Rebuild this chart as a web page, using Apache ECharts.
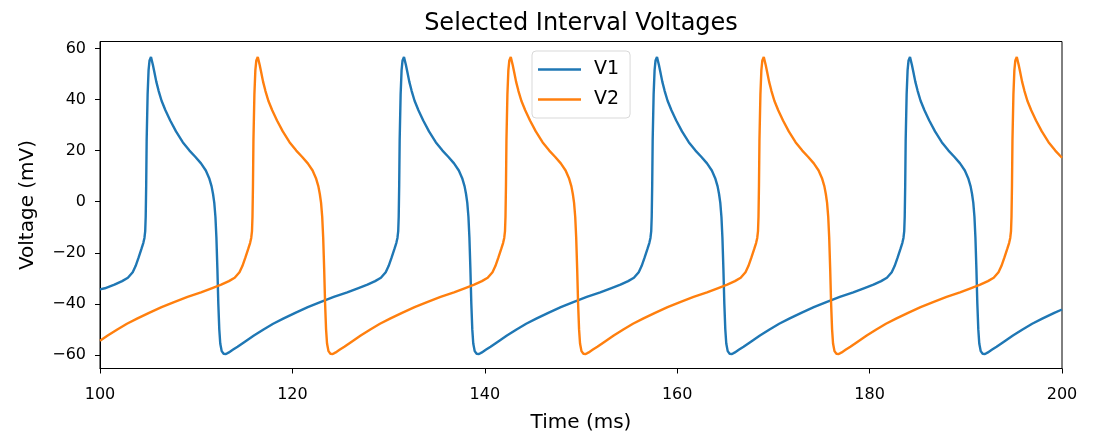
<!DOCTYPE html>
<html lang="en">
<head>
<meta charset="UTF-8">
<title>Selected Interval Voltages</title>
<script src="https://cdn.jsdelivr.net/npm/echarts@6/dist/echarts.min.js"></script>
<style>
  html, body { margin: 0; padding: 0; background: #fff; }
  #chart { width: 1095px; height: 434px; }
</style>
</head>
<body>
<div id="chart"></div>
<script>
// time (ms) and voltage (mV)
var v1Time = [
  100.00, 100.50, 101.50, 102.30, 102.90, 103.40, 103.70, 104.00, 104.30, 104.50, 104.62, 104.70, 104.75, 104.80, 104.85, 104.95, 105.05, 105.15,
  105.30, 105.38, 105.50, 105.65, 105.85, 106.10, 106.40, 106.80, 107.30, 107.90, 108.60, 109.30, 109.90, 110.50, 111.00, 111.35,
  111.60, 111.75, 111.88, 112.00, 112.10, 112.20, 112.30, 112.40, 112.50, 112.65, 112.85, 113.10, 113.40, 113.80, 114.30, 115.10,
  116.00, 117.00, 118.00, 119.10, 120.30, 121.60, 122.90, 124.30, 125.70, 126.80, 127.80, 128.60, 129.20, 129.70,
  130.00, 130.30, 130.60, 130.80, 130.92, 131.00, 131.05, 131.10, 131.15, 131.25, 131.35, 131.45,
  131.60, 131.68, 131.80, 131.95, 132.15, 132.40, 132.70, 133.10, 133.60, 134.20, 134.90, 135.60, 136.20, 136.80, 137.30, 137.65,
  137.90, 138.05, 138.18, 138.30, 138.40, 138.50, 138.60, 138.70, 138.80, 138.95, 139.15, 139.40, 139.70, 140.10, 140.60, 141.40,
  142.30, 143.30, 144.30, 145.40, 146.60, 147.90, 149.20, 150.60, 152.00, 153.10, 154.10, 154.90, 155.50, 156.00,
  156.30, 156.60, 156.90, 157.10, 157.22, 157.30, 157.35, 157.40, 157.45, 157.55, 157.65, 157.75,
  157.90, 157.98, 158.10, 158.25, 158.45, 158.70, 159.00, 159.40, 159.90, 160.50, 161.20, 161.90, 162.50, 163.10, 163.60, 163.95,
  164.20, 164.35, 164.48, 164.60, 164.70, 164.80, 164.90, 165.00, 165.10, 165.25, 165.45, 165.70, 166.00, 166.40, 166.90, 167.70,
  168.60, 169.60, 170.60, 171.70, 172.90, 174.20, 175.50, 176.90, 178.30, 179.40, 180.40, 181.20, 181.80, 182.30,
  182.60, 182.90, 183.20, 183.40, 183.52, 183.60, 183.65, 183.70, 183.75, 183.85, 183.95, 184.05,
  184.20, 184.28, 184.40, 184.55, 184.75, 185.00, 185.30, 185.70, 186.20, 186.80, 187.50, 188.20, 188.80, 189.40, 189.90, 190.25,
  190.50, 190.65, 190.78, 190.90, 191.00, 191.10, 191.20, 191.30, 191.40, 191.55, 191.75, 192.00, 192.30, 192.70, 193.20, 194.00,
  194.90, 195.90, 196.90, 198.00, 199.20, 200.00
];
var v1Volt = [
  -34.3, -33.9, -32.5, -31.1, -29.8, -27.6, -25.2, -22.0, -18.6, -16.2, -14.2, -11.5, -6.0, 6.0, 24.0, 42.0, 51.5, 55.3,
  56.6, 56.2, 53.5, 50.8, 47.0, 43.3, 39.5, 35.8, 31.8, 27.5, 23.3, 20.0, 17.6, 15.0, 12.2, 9.2,
  6.0, 3.0, -0.5, -6.0, -14.0, -26.0, -40.0, -50.0, -55.5, -58.5, -59.5, -59.6, -59.0, -58.0, -56.8, -54.7,
  -52.4, -50.0, -47.8, -45.7, -43.5, -41.3, -39.3, -37.3, -35.5, -33.9, -32.5, -31.1, -29.8, -27.6,
  -25.2, -22.0, -18.6, -16.2, -14.2, -11.5, -6.0, 6.0, 24.0, 42.0, 51.5, 55.3,
  56.6, 56.2, 53.5, 50.8, 47.0, 43.3, 39.5, 35.8, 31.8, 27.5, 23.3, 20.0, 17.6, 15.0, 12.2, 9.2,
  6.0, 3.0, -0.5, -6.0, -14.0, -26.0, -40.0, -50.0, -55.5, -58.5, -59.5, -59.6, -59.0, -58.0, -56.8, -54.7,
  -52.4, -50.0, -47.8, -45.7, -43.5, -41.3, -39.3, -37.3, -35.5, -33.9, -32.5, -31.1, -29.8, -27.6,
  -25.2, -22.0, -18.6, -16.2, -14.2, -11.5, -6.0, 6.0, 24.0, 42.0, 51.5, 55.3,
  56.6, 56.2, 53.5, 50.8, 47.0, 43.3, 39.5, 35.8, 31.8, 27.5, 23.3, 20.0, 17.6, 15.0, 12.2, 9.2,
  6.0, 3.0, -0.5, -6.0, -14.0, -26.0, -40.0, -50.0, -55.5, -58.5, -59.5, -59.6, -59.0, -58.0, -56.8, -54.7,
  -52.4, -50.0, -47.8, -45.7, -43.5, -41.3, -39.3, -37.3, -35.5, -33.9, -32.5, -31.1, -29.8, -27.6,
  -25.2, -22.0, -18.6, -16.2, -14.2, -11.5, -6.0, 6.0, 24.0, 42.0, 51.5, 55.3,
  56.6, 56.2, 53.5, 50.8, 47.0, 43.3, 39.5, 35.8, 31.8, 27.5, 23.3, 20.0, 17.6, 15.0, 12.2, 9.2,
  6.0, 3.0, -0.5, -6.0, -14.0, -26.0, -40.0, -50.0, -55.5, -58.5, -59.5, -59.6, -59.0, -58.0, -56.8, -54.7,
  -52.4, -50.0, -47.8, -45.7, -43.5, -42.2
];

var v2Time = [
  100.00, 100.80, 101.80, 102.80, 103.90, 105.10, 106.40, 107.70, 109.10, 110.50, 111.60, 112.60, 113.40, 114.00, 114.50,
  114.80, 115.10, 115.40, 115.60, 115.72, 115.80, 115.85, 115.90, 115.95, 116.05, 116.15, 116.25,
  116.40, 116.48, 116.60, 116.75, 116.95, 117.20, 117.50, 117.90, 118.40, 119.00, 119.70, 120.40, 121.00, 121.60, 122.10, 122.45,
  122.70, 122.85, 122.98, 123.10, 123.20, 123.30, 123.40, 123.50, 123.60, 123.75, 123.95, 124.20, 124.50, 124.90, 125.40, 126.20,
  127.10, 128.10, 129.10, 130.20, 131.40, 132.70, 134.00, 135.40, 136.80, 137.90, 138.90, 139.70, 140.30, 140.80,
  141.10, 141.40, 141.70, 141.90, 142.02, 142.10, 142.15, 142.20, 142.25, 142.35, 142.45, 142.55,
  142.70, 142.78, 142.90, 143.05, 143.25, 143.50, 143.80, 144.20, 144.70, 145.30, 146.00, 146.70, 147.30, 147.90, 148.40, 148.75,
  149.00, 149.15, 149.28, 149.40, 149.50, 149.60, 149.70, 149.80, 149.90, 150.05, 150.25, 150.50, 150.80, 151.20, 151.70, 152.50,
  153.40, 154.40, 155.40, 156.50, 157.70, 159.00, 160.30, 161.70, 163.10, 164.20, 165.20, 166.00, 166.60, 167.10,
  167.40, 167.70, 168.00, 168.20, 168.32, 168.40, 168.45, 168.50, 168.55, 168.65, 168.75, 168.85,
  169.00, 169.08, 169.20, 169.35, 169.55, 169.80, 170.10, 170.50, 171.00, 171.60, 172.30, 173.00, 173.60, 174.20, 174.70, 175.05,
  175.30, 175.45, 175.58, 175.70, 175.80, 175.90, 176.00, 176.10, 176.20, 176.35, 176.55, 176.80, 177.10, 177.50, 178.00, 178.80,
  179.70, 180.70, 181.70, 182.80, 184.00, 185.30, 186.60, 188.00, 189.40, 190.50, 191.50, 192.30, 192.90, 193.40,
  193.70, 194.00, 194.30, 194.50, 194.62, 194.70, 194.75, 194.80, 194.85, 194.95, 195.05, 195.15,
  195.30, 195.38, 195.50, 195.65, 195.85, 196.10, 196.40, 196.80, 197.30, 197.90, 198.60, 199.30, 199.90, 200.00
];
var v2Volt = [
  -54.4, -52.4, -50.0, -47.8, -45.7, -43.5, -41.3, -39.3, -37.3, -35.5, -33.9, -32.5, -31.1, -29.8, -27.6,
  -25.2, -22.0, -18.6, -16.2, -14.2, -11.5, -6.0, 6.0, 24.0, 42.0, 51.5, 55.3,
  56.6, 56.2, 53.5, 50.8, 47.0, 43.3, 39.5, 35.8, 31.8, 27.5, 23.3, 20.0, 17.6, 15.0, 12.2, 9.2,
  6.0, 3.0, -0.5, -6.0, -14.0, -26.0, -40.0, -50.0, -55.5, -58.5, -59.5, -59.6, -59.0, -58.0, -56.8, -54.7,
  -52.4, -50.0, -47.8, -45.7, -43.5, -41.3, -39.3, -37.3, -35.5, -33.9, -32.5, -31.1, -29.8, -27.6,
  -25.2, -22.0, -18.6, -16.2, -14.2, -11.5, -6.0, 6.0, 24.0, 42.0, 51.5, 55.3,
  56.6, 56.2, 53.5, 50.8, 47.0, 43.3, 39.5, 35.8, 31.8, 27.5, 23.3, 20.0, 17.6, 15.0, 12.2, 9.2,
  6.0, 3.0, -0.5, -6.0, -14.0, -26.0, -40.0, -50.0, -55.5, -58.5, -59.5, -59.6, -59.0, -58.0, -56.8, -54.7,
  -52.4, -50.0, -47.8, -45.7, -43.5, -41.3, -39.3, -37.3, -35.5, -33.9, -32.5, -31.1, -29.8, -27.6,
  -25.2, -22.0, -18.6, -16.2, -14.2, -11.5, -6.0, 6.0, 24.0, 42.0, 51.5, 55.3,
  56.6, 56.2, 53.5, 50.8, 47.0, 43.3, 39.5, 35.8, 31.8, 27.5, 23.3, 20.0, 17.6, 15.0, 12.2, 9.2,
  6.0, 3.0, -0.5, -6.0, -14.0, -26.0, -40.0, -50.0, -55.5, -58.5, -59.5, -59.6, -59.0, -58.0, -56.8, -54.7,
  -52.4, -50.0, -47.8, -45.7, -43.5, -41.3, -39.3, -37.3, -35.5, -33.9, -32.5, -31.1, -29.8, -27.6,
  -25.2, -22.0, -18.6, -16.2, -14.2, -11.5, -6.0, 6.0, 24.0, 42.0, 51.5, 55.3,
  56.6, 56.2, 53.5, 50.8, 47.0, 43.3, 39.5, 35.8, 31.8, 27.5, 23.3, 20.0, 17.6, 17.2
];

var xTicks = [100, 120, 140, 160, 180, 200];
var yTicks = [-60, -40, -20, 0, 20, 40, 60];

function pairs(xs, ys) {
  return xs.map(function (x, i) { return [x, ys[i]]; });
}
function minus(v) {
  return String(v).replace('-', '\u2212');
}

var font = 'DejaVu Sans';
var chart = echarts.init(document.getElementById('chart'), null, { renderer: 'canvas' });
chart.setOption({
  animation: false,
  backgroundColor: '#fff',
  title: {
    text: 'Selected Interval Voltages',
    left: 576,
    top: 7,
    textAlign: 'center',
    textStyle: { fontFamily: font, fontSize: 24, fontWeight: 'normal', color: '#000' }
  },
  legend: {
    data: ['V1', 'V2'],
    orient: 'vertical',
    left: 532,
    top: 51,
    padding: [9, 11, 9, 6],
    itemGap: 11,
    itemWidth: 43,
    itemHeight: 2.5,
    icon: 'rect',
    backgroundColor: '#fff',
    borderColor: '#d9d9d9',
    borderWidth: 1,
    borderRadius: 4,
    textStyle: { fontFamily: font, fontSize: 19, color: '#000', padding: [0, 0, 0, 8] }
  },
  grid: {
    left: 100, right: 33, top: 41.5, bottom: 65.5,
    outerBoundsMode: 'none',
    show: true, borderColor: '#000', borderWidth: 1
  },
  xAxis: {
    type: 'value',
    min: 100, max: 200, interval: 20,
    name: 'Time (ms)',
    nameLocation: 'middle',
    nameGap: 44,
    nameTextStyle: { fontFamily: font, fontSize: 20, color: '#000' },
    axisLine: { show: true, onZero: false, lineStyle: { color: '#000', width: 1 } },
    axisTick: { show: true, length: 5, lineStyle: { color: '#000' } },
    axisLabel: { fontFamily: font, fontSize: 16, color: '#000', margin: 18 },
    splitLine: { show: false }
  },
  yAxis: {
    type: 'value',
    min: -65.3, max: 62.7,
    name: 'Voltage (mV)',
    nameLocation: 'middle',
    nameGap: 62,
    nameTextStyle: { fontFamily: font, fontSize: 20, color: '#000' },
    axisLine: { show: true, onZero: false, lineStyle: { color: '#000', width: 1 } },
    axisTick: { show: true, length: 5, customValues: yTicks, lineStyle: { color: '#000' } },
    axisLabel: {
      fontFamily: font, fontSize: 16, color: '#000', margin: 14,
      customValues: yTicks,
      formatter: function (v) { return minus(v); }
    },
    splitLine: { show: false }
  },
  series: [
    {
      name: 'V1', type: 'line', data: pairs(v1Time, v1Volt),
      symbol: 'none', smooth: false,
      lineStyle: { color: '#1f77b4', width: 2.4 }, itemStyle: { color: '#1f77b4' }
    },
    {
      name: 'V2', type: 'line', data: pairs(v2Time, v2Volt),
      symbol: 'none', smooth: false,
      lineStyle: { color: '#ff7f0e', width: 2.4 }, itemStyle: { color: '#ff7f0e' }
    }
  ]
});
</script>
</body>
</html>
